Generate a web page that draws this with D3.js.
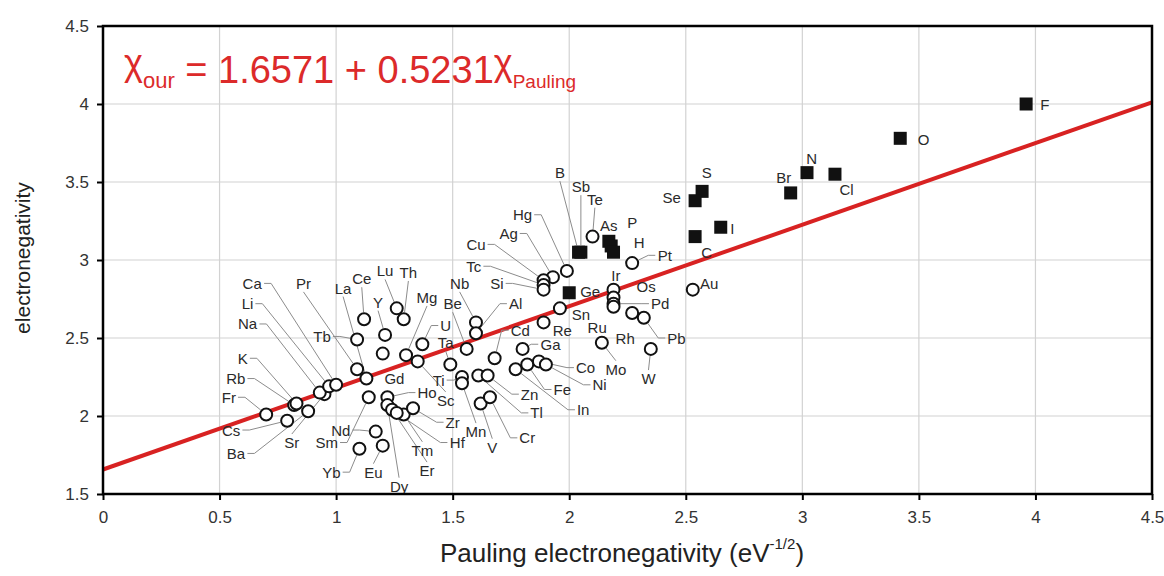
<!DOCTYPE html>
<html>
<head>
<meta charset="utf-8">
<script src="https://cdn.jsdelivr.net/npm/d3@7"></script>
<style>
  body { margin: 0; background: #fff; }
  svg { display: block; font-family: "Liberation Sans", Arial, sans-serif; }
</style>
</head>
<body>
<div id="chart"></div>
<script>
// element symbols, Pauling value (x) and our electronegativity (y)
const elements = ["F","O","N","Cl","Br","S","Se","I","C","B","Sb","As","P","H","Ge",
  "Te","Pt","Hg","Ag","Cu","Tc","Si","Sn","Re","Ir","Os","Pd","Ru","Rh","Pb","Mo","W","Au",
  "Nb","Al","Be","Cd","Ta","Ti","Mn","Tl","Zn","V","Cr","In","Fe","Co","Ni","Ga",
  "Sc","U","Mg","Lu","Th","Y","Ce","La","Pr","Tb","Gd","Ho","Sm","Nd","Eu","Yb",
  "Dy","Er","Tm","Zr","Hf","Fr","Cs","Rb","K","Ba","Sr","Na","Li","Ca"];
const pauling = [3.96,3.42,3.02,3.14,2.95,2.57,2.54,2.65,2.54,2.04,2.05,2.17,2.18,2.19,2.00,
  2.10,2.27,1.99,1.93,1.89,1.89,1.89,1.96,1.89,2.19,2.19,2.19,2.19,2.27,2.32,2.14,2.35,2.53,
  1.60,1.60,1.56,1.68,1.49,1.54,1.54,1.61,1.65,1.62,1.66,1.77,1.82,1.87,1.90,1.80,
  1.35,1.37,1.30,1.26,1.29,1.21,1.12,1.13,1.09,1.09,1.20,1.22,1.14,1.17,1.20,1.10,
  1.22,1.24,1.29,1.33,1.26,0.70,0.79,0.82,0.83,0.88,0.95,0.93,0.97,1.00];
const ourEN = [4.00,3.78,3.56,3.55,3.43,3.44,3.38,3.21,3.15,3.05,3.05,3.12,3.09,3.05,2.79,
  3.15,2.98,2.93,2.89,2.87,2.84,2.81,2.69,2.60,2.81,2.76,2.72,2.70,2.66,2.63,2.47,2.43,2.81,
  2.60,2.53,2.43,2.37,2.33,2.25,2.21,2.26,2.26,2.08,2.12,2.30,2.33,2.35,2.33,2.43,
  2.35,2.46,2.39,2.69,2.62,2.52,2.62,2.24,2.30,2.49,2.40,2.12,2.12,1.90,1.81,1.79,
  2.07,2.04,2.01,2.05,2.02,2.01,1.97,2.07,2.08,2.03,2.14,2.15,2.19,2.20];
// where each symbol is written, in axis units
const labelX = [4.04,3.52,3.04,3.19,2.92,2.59,2.44,2.70,2.59,1.96,2.05,2.17,2.27,2.30,2.09,
  2.11,2.41,1.80,1.74,1.60,1.59,1.69,2.05,1.97,2.20,2.33,2.39,2.12,2.24,2.46,2.20,2.34,2.60,
  1.53,1.77,1.50,1.79,1.47,1.44,1.60,1.86,1.83,1.67,1.82,2.06,1.97,2.07,2.13,1.92,
  1.47,1.47,1.39,1.21,1.31,1.18,1.11,1.03,0.86,0.94,1.25,1.39,0.96,1.02,1.16,0.98,
  1.27,1.39,1.37,1.50,1.52,0.54,0.55,0.57,0.60,0.57,0.81,0.62,0.62,0.64];
const labelY = [4.00,3.77,3.65,3.45,3.53,3.56,3.40,3.20,3.05,3.56,3.47,3.22,3.24,3.11,2.80,
  3.39,3.03,3.29,3.17,3.10,2.96,2.85,2.65,2.55,2.90,2.83,2.72,2.57,2.50,2.50,2.30,2.24,2.85,
  2.85,2.72,2.72,2.55,2.47,2.23,1.90,2.02,2.14,1.80,1.86,2.04,2.17,2.31,2.20,2.46,
  2.10,2.58,2.76,2.93,2.92,2.73,2.88,2.82,2.85,2.51,2.24,2.15,1.83,1.91,1.64,1.64,
  1.55,1.65,1.78,1.96,1.83,2.12,1.91,2.24,2.37,1.76,1.83,2.59,2.72,2.85];
// drawn as filled squares (non-metals), the rest as open circles
const squareElements = ["F","O","N","Cl","Br","S","Se","I","C","B","Sb","As","P","H","Ge"];
// labels sitting right next to their mark, no leader line
const plainLabels = ["F","O","N","Cl","Br","S","Se","I","C","Ge","Sn","Re","Ir","Os","Ru","Rh","Au","As","P","H","Gd"];

const xTicks = [0,0.5,1,1.5,2,2.5,3,3.5,4,4.5];
const yTicks = [1.5,2,2.5,3,3.5,4,4.5];
const fitIntercept = 1.6571, fitSlope = 0.5231;

const W = 1164, H = 576;
const m = {left:103, right:12, top:26, bottom:82};

const svg = d3.select("#chart").append("svg")
  .attr("width", W).attr("height", H);

const x = d3.scaleLinear().domain([0,4.5]).range([m.left, W - m.right]);
const y = d3.scaleLinear().domain([1.5,4.5]).range([H - m.bottom, m.top]);

// grid
svg.append("g").selectAll("line").data(xTicks.slice(1,-1)).join("line")
  .attr("x1", d => x(d)).attr("x2", d => x(d))
  .attr("y1", y(1.5)).attr("y2", y(4.5))
  .attr("stroke", "#d2d2d2").attr("stroke-width", 1.2);
svg.append("g").selectAll("line").data(yTicks.slice(1,-1)).join("line")
  .attr("y1", d => y(d)).attr("y2", d => y(d))
  .attr("x1", x(0)).attr("x2", x(4.5))
  .attr("stroke", "#d2d2d2").attr("stroke-width", 1.2);

// axes
const xAxis = svg.append("g").attr("transform", "translate(0," + y(1.5) + ")")
  .call(d3.axisBottom(x).tickValues(xTicks).tickFormat(d3.format("")).tickSize(6).tickPadding(11));
const yAxis = svg.append("g").attr("transform", "translate(" + x(0) + ",0)")
  .call(d3.axisLeft(y).tickValues(yTicks).tickFormat(d3.format("")).tickSize(6).tickPadding(8));
[xAxis, yAxis].forEach(a => {
  a.select(".domain").remove();
  a.attr("font-size", 17).attr("font-family", "Liberation Sans, Arial, sans-serif");
  a.selectAll(".tick line").attr("stroke", "#000").attr("stroke-width", 2);
  a.selectAll(".tick text").attr("fill", "#333");
});

// fitted line
svg.append("line")
  .attr("x1", x(0)).attr("y1", y(fitIntercept))
  .attr("x2", x(4.5)).attr("y2", y(fitIntercept + fitSlope * 4.5))
  .attr("stroke", "#d82222").attr("stroke-width", 4);

const pts = elements.map((e, i) => ({
  name: e, x: pauling[i], y: ourEN[i], lx: labelX[i], ly: labelY[i],
  square: squareElements.includes(e), plain: plainLabels.includes(e)
}));

// labels first, so their boxes can be measured for the leader lines
const labelG = svg.append("g");
const leaderG = svg.insert("g", () => labelG.node());
const markG = svg.insert("g", () => labelG.node());

labelG.selectAll("text").data(pts).join("text")
  .attr("x", d => x(d.lx)).attr("y", d => y(d.ly))
  .attr("text-anchor", "middle").attr("dominant-baseline", "central")
  .attr("font-size", 15).attr("fill", "#2a2a2a")
  .text(d => d.name)
  .each(function(d){ d.box = this.getBBox(); });

pts.filter(d => !d.plain).forEach(d => {
  const lx = x(d.lx), ly = y(d.ly), mx = x(d.x), my = y(d.y);
  const dx = mx - lx, dy = my - ly;
  let path = [];
  if (Math.abs(dy) > Math.abs(dx) * 1.3) {
    path.push([lx, ly + Math.sign(dy) * (d.box.height / 2)]);
  } else {
    const sx = lx + Math.sign(dx) * (d.box.width / 2 + 2);
    path.push([sx, ly], [sx + Math.sign(dx) * 7, ly]);
  }
  const p = path[path.length - 1];
  const len = Math.hypot(mx - p[0], my - p[1]);
  path.push([mx - (mx - p[0]) / len * 7, my - (my - p[1]) / len * 7]);
  leaderG.append("path")
    .attr("d", d3.line()(path))
    .attr("fill", "none").attr("stroke", "#8c8c8c").attr("stroke-width", 1);
});

// markers
markG.selectAll("circle").data(pts.filter(d => !d.square)).join("circle")
  .attr("cx", d => x(d.x)).attr("cy", d => y(d.y)).attr("r", 6)
  .attr("fill", "#fff").attr("stroke", "#111").attr("stroke-width", 2);
markG.selectAll("rect").data(pts.filter(d => d.square)).join("rect")
  .attr("x", d => x(d.x) - 6.5).attr("y", d => y(d.y) - 6.5)
  .attr("width", 13).attr("height", 13).attr("fill", "#111");

// plot frame
svg.append("rect")
  .attr("x", x(0)).attr("y", y(4.5))
  .attr("width", x(4.5) - x(0)).attr("height", y(1.5) - y(4.5))
  .attr("fill", "none").attr("stroke", "#000").attr("stroke-width", 2.5);

// equation
const eq = svg.append("text").attr("x", 124).attr("y", 83).attr("fill", "#dc2a2a");
eq.append("tspan").attr("font-size", 36).attr("dy", -8).text("χ");
eq.append("tspan").attr("font-size", 22).attr("dy", 13).text("our");
eq.append("tspan").attr("font-size", 38).attr("dy", -5).text(" = 1.6571 + 0.5231");
eq.append("tspan").attr("font-size", 36).attr("dy", -8).text("χ");
eq.append("tspan").attr("font-size", 19).attr("dy", 13).text("Pauling");

// axis titles
const xt = svg.append("text").attr("x", 440).attr("y", 562).attr("font-size", 26).attr("fill", "#222");
xt.append("tspan").text("Pauling electronegativity (eV");
xt.append("tspan").attr("font-size", 15).attr("dy", -13).text("-1/2");
xt.append("tspan").attr("dy", 13).text(")");

svg.append("text")
  .attr("transform", "translate(30,258) rotate(-90)")
  .attr("text-anchor", "middle").attr("font-size", 21).attr("fill", "#222")
  .text("electronegativity");
</script>
</body>
</html>
